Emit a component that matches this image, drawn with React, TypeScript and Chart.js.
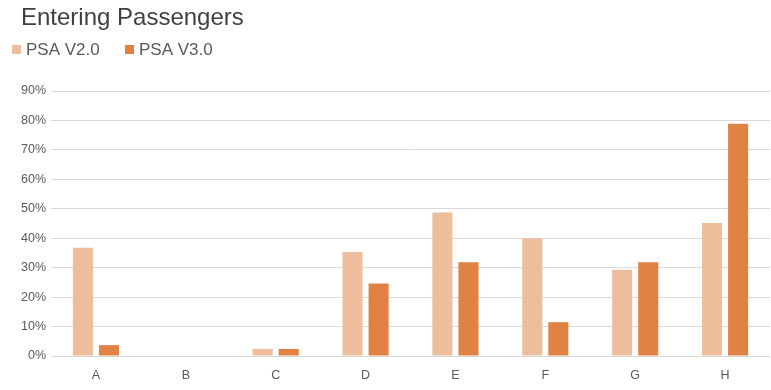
import React, { useEffect, useRef } from "react";
import { Chart, registerables } from "chart.js";

Chart.register(...registerables);

const categories = ["A", "B", "C", "D", "E", "F", "G", "H"];
const psaV2 = [0.368, 0, 0.024, 0.353, 0.487, 0.4, 0.293, 0.452];
const psaV3 = [0.037, 0, 0.024, 0.246, 0.318, 0.115, 0.318, 0.789];
const seriesNames = ["PSA V2.0", "PSA V3.0"];
const seriesColors = ["#EDBE9B", "#E08244"];
const yTicks = [0, 0.1, 0.2, 0.3, 0.4, 0.5, 0.6, 0.7, 0.8, 0.9];
const titleText = "Entering Passengers";

const headerPlugin = {
  id: "header",
  afterDraw(chart: any) {
    const ctx = chart.ctx as CanvasRenderingContext2D;
    ctx.save();
    ctx.textBaseline = "alphabetic";
    ctx.textAlign = "left";
    ctx.fillStyle = "#404040";
    ctx.font = "24px 'Liberation Sans', Arial, sans-serif";
    ctx.fillText(titleText, 21, 25);
    ctx.font = "17px 'Liberation Sans', Arial, sans-serif";
    const boxX = [12, 125];
    chart.data.datasets.forEach((ds: any, i: number) => {
      ctx.fillStyle = ds.backgroundColor;
      ctx.fillRect(boxX[i], 45, 9, 9);
      ctx.fillStyle = "#595959";
      ctx.fillText(ds.label, boxX[i] + 14, 55);
    });
    ctx.restore();
  },
};

export default function App() {
  const ref = useRef<HTMLCanvasElement>(null);

  useEffect(() => {
    document.body.style.margin = "0";
    const ctx = ref.current!;
    const chart = new Chart(ctx, {
      type: "bar",
      data: {
        labels: categories,
        datasets: [
          {
            label: seriesNames[0],
            data: psaV2,
            backgroundColor: seriesColors[0],
            categoryPercentage: 0.58,
            barPercentage: 0.77,
          },
          {
            label: seriesNames[1],
            data: psaV3,
            backgroundColor: seriesColors[1],
            categoryPercentage: 0.58,
            barPercentage: 0.77,
          },
        ],
      },
      plugins: [headerPlugin],
      options: {
        responsive: false,
        animation: false,
        layout: { padding: { left: 10, right: 1, top: 91, bottom: 0 } },
        plugins: {
          title: { display: false },
          legend: { display: false },
          tooltip: { enabled: false },
        },
        scales: {
          x: {
            afterFit: (scale: any) => {
              scale.height = 34;
            },
            grid: { display: false, drawTicks: false },
            border: { display: false },
            ticks: {
              color: "#595959",
              font: { family: "Liberation Sans", size: 12.5 },
              padding: 12,
            },
          },
          y: {
            min: 0,
            max: 0.9,
            afterFit: (scale: any) => {
              scale.width = 41;
            },
            afterBuildTicks: (scale: any) => {
              scale.ticks = yTicks.map((v) => ({ value: v }));
            },
            grid: { color: "#D9D9D9", lineWidth: 1, drawTicks: false },
            border: { display: false },
            ticks: {
              color: "#595959",
              font: { family: "Liberation Sans", size: 12.5 },
              padding: 5,
              callback: (v: any) => Math.round(Number(v) * 100) + "%",
            },
          },
        },
      },
    });
    return () => chart.destroy();
  }, []);

  return (
    <div style={{ width: 771, height: 390 }}>
      <canvas ref={ref} width={771} height={390} />
    </div>
  );
}
